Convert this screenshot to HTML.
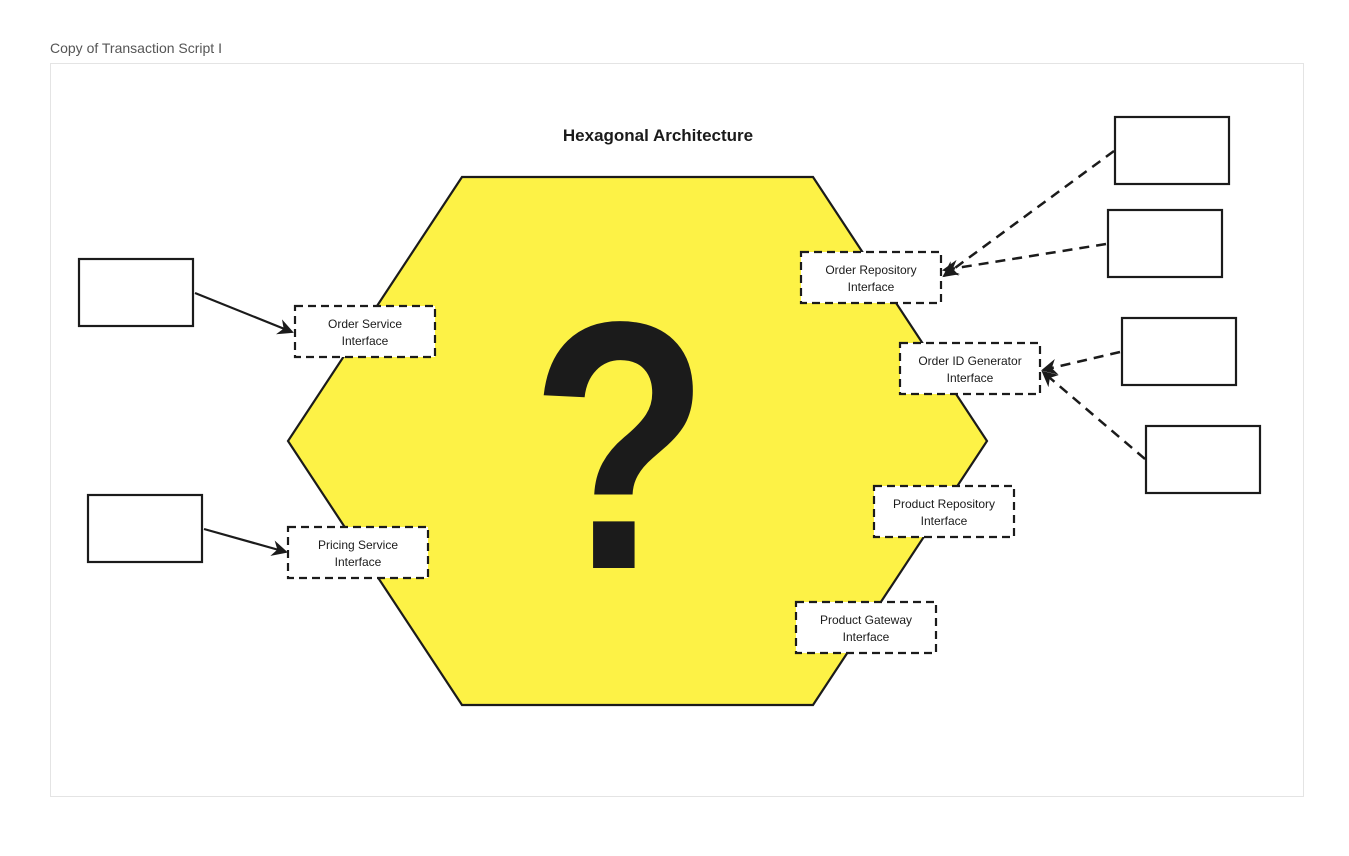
<!DOCTYPE html>
<html><head><meta charset="utf-8"><style>
body{margin:0;background:#fff;width:1349px;height:851px;overflow:hidden;font-family:"Liberation Sans","DejaVu Sans",sans-serif}
</style></head><body>
<svg width="1349" height="851" xmlns="http://www.w3.org/2000/svg" font-family="Liberation Sans, DejaVu Sans, sans-serif">
<defs>
<marker id="b" markerWidth="16" markerHeight="16" refX="14" refY="8" orient="auto" markerUnits="userSpaceOnUse" viewBox="0 0 16 16">
<path d="M0,0 L16,8 L0,16 L5,8 Z" fill="#1b1b1b"/></marker>
</defs>
<text x="50" y="53" font-size="14" fill="#555">Copy of Transaction Script I</text>
<rect x="50.5" y="63.5" width="1253" height="733" fill="#fff" stroke="#e4e4e4"/>
<text x="658" y="141" font-size="17" font-weight="bold" text-anchor="middle" fill="#1b1b1b">Hexagonal Architecture</text>
<polygon points="462,177 813,177 987,441 813,705 462,705 288,441" fill="#fdf246" stroke="#1b1b1b" stroke-width="2.2"/>
<text transform="translate(620,568) scale(0.84,1.01)" font-size="350" font-weight="bold" text-anchor="middle" fill="#1b1b1b">?</text>
<g fill="none" stroke="#1b1b1b" stroke-width="2.2">
<rect x="79" y="259" width="114" height="67"/>
<rect x="88" y="495" width="114" height="67"/>
<rect x="1115" y="117" width="114" height="67"/>
<rect x="1108" y="210" width="114" height="67"/>
<rect x="1122" y="318" width="114" height="67"/>
<rect x="1146" y="426" width="114" height="67"/>
</g>
<g stroke="#1b1b1b" stroke-width="2.2" fill="none">
<line x1="195" y1="293" x2="292" y2="332" marker-end="url(#b)"/>
<line x1="204" y1="529" x2="286" y2="552" marker-end="url(#b)"/>
</g>
<g stroke="#1b1b1b" stroke-width="2.5" fill="none" stroke-dasharray="10 7">
<line x1="1114" y1="151" x2="944" y2="276" marker-end="url(#b)"/>
<line x1="1106" y1="244" x2="944" y2="270" marker-end="url(#b)"/>
<line x1="1120" y1="352" x2="1043" y2="370" marker-end="url(#b)"/>
<line x1="1145" y1="459" x2="1043" y2="372" marker-end="url(#b)"/>
</g>
<g stroke="#1b1b1b" stroke-width="2.2" fill="#fff" stroke-dasharray="8 5">
<rect x="295" y="306" width="140" height="51"/>
<rect x="288" y="527" width="140" height="51"/>
<rect x="801" y="252" width="140" height="51"/>
<rect x="900" y="343" width="140" height="51"/>
<rect x="874" y="486" width="140" height="51"/>
<rect x="796" y="602" width="140" height="51"/>
</g>
<g font-size="12" fill="#1b1b1b" text-anchor="middle">
<text x="365" y="328">Order Service</text><text x="365" y="345">Interface</text>
<text x="358" y="549">Pricing Service</text><text x="358" y="566">Interface</text>
<text x="871" y="274">Order Repository</text><text x="871" y="291">Interface</text>
<text x="970" y="365">Order ID Generator</text><text x="970" y="382">Interface</text>
<text x="944" y="508">Product Repository</text><text x="944" y="525">Interface</text>
<text x="866" y="624">Product Gateway</text><text x="866" y="641">Interface</text>
</g>
</svg>
</body></html>
